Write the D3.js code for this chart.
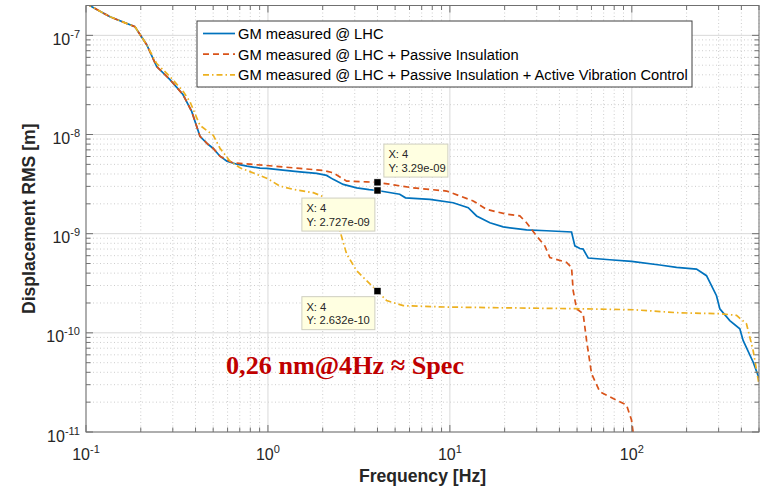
<!DOCTYPE html>
<html><head><meta charset="utf-8">
<script src="https://cdn.jsdelivr.net/npm/d3@7"></script>
<style>body{margin:0;background:#fff} svg{display:block}</style>
</head><body><svg id="c" width="761" height="487"></svg>
<script>
// ---- data ----
const freqLHC = [0.1, 0.1107, 0.1355, 0.1858, 0.2156, 0.2446, 0.2894, 0.341, 0.381, 0.4231, 0.468, 0.499, 0.545, 0.595, 0.676, 0.767, 0.904, 0.984, 1.209, 1.499, 1.852, 2.101, 2.284, 2.593, 3.073, 3.6, 4, 5.3, 5.7, 7.768, 10.42, 12.61, 14.02, 16.59, 19.63, 26.39, 33.99, 46.64, 48.63, 51.81, 54.0, 57.54, 75.7, 99.6, 142.5, 176.1, 226.7, 257.3, 292, 304.5, 345.5, 392.2, 408.9, 464, 500];
const rmsLHC = [2.1e-7, 1.89e-7, 1.54e-7, 1.22e-7, 8.05e-8, 4.84e-8, 3.58e-8, 2.53e-8, 1.71e-8, 9.59e-9, 7.97e-9, 7.27e-9, 6.04e-9, 5.38e-9, 5.02e-9, 4.80e-9, 4.58e-9, 4.55e-9, 4.37e-9, 4.20e-9, 4.05e-9, 3.87e-9, 3.53e-9, 3.14e-9, 2.90e-9, 2.78e-9, 2.727e-9, 2.50e-9, 2.30e-9, 2.22e-9, 2.05e-9, 1.83e-9, 1.51e-9, 1.29e-9, 1.17e-9, 1.09e-9, 1.07e-9, 1.04e-9, 7.54e-10, 7.09e-10, 6.99e-10, 5.68e-10, 5.46e-10, 5.25e-10, 4.83e-10, 4.57e-10, 4.40e-10, 3.77e-10, 2.37e-10, 1.75e-10, 1.33e-10, 1.10e-10, 8.39e-11, 5.08e-11, 3.5e-11];

const freqPassive = [0.1, 0.1107, 0.1355, 0.1858, 0.2156, 0.2446, 0.2894, 0.341, 0.381, 0.4231, 0.468, 0.499, 0.545, 0.6426, 0.9837, 1.499, 2.013, 2.284, 2.707, 3.486, 4, 6.287, 9.592, 13.43, 15.91, 20.49, 24.24, 26.39, 29.95, 33.27, 35.44, 43.78, 46.64, 47.6, 49.69, 54.01, 56.39, 60.07, 66.71, 78.94, 93.52, 99.6, 101.6, 102.5];
const rmsPassive = [2.1e-7, 1.89e-7, 1.54e-7, 1.22e-7, 8.05e-8, 4.84e-8, 3.58e-8, 2.53e-8, 1.71e-8, 9.59e-9, 7.97e-9, 7.27e-9, 6.04e-9, 5.17e-9, 4.87e-9, 4.55e-9, 4.34e-9, 4.11e-9, 3.39e-9, 3.33e-9, 3.29e-9, 2.90e-9, 2.69e-9, 2.14e-9, 1.76e-9, 1.57e-9, 1.51e-9, 1.29e-9, 9.50e-10, 7.54e-10, 5.75e-10, 5.13e-10, 4.57e-10, 2.67e-10, 1.75e-10, 1.56e-10, 8.39e-11, 3.88e-11, 2.54e-11, 2.18e-11, 1.87e-11, 1.32e-11, 1.0e-11, 8e-12];

const freqActive = [0.1, 0.1107, 0.1355, 0.1858, 0.2156, 0.2446, 0.2894, 0.3424, 0.3727, 0.4072, 0.4231, 0.5007, 0.545, 0.6188, 0.7023, 0.9837, 1.164, 1.377, 1.774, 1.973, 2.284, 2.487, 2.707, 3.073, 3.635, 4, 4.489, 5.539, 9.592, 24.24, 51.81, 101.6, 183.6, 304.5, 376.2, 426.9, 464, 500];
const rmsActive = [2.1e-7, 1.89e-7, 1.54e-7, 1.22e-7, 8.05e-8, 5.19e-8, 3.84e-8, 2.71e-8, 2.15e-8, 1.455e-8, 1.237e-8, 9.82e-9, 7.27e-9, 5.38e-9, 4.61e-9, 3.63e-9, 3.02e-9, 2.80e-9, 2.59e-9, 2.40e-9, 1.83e-9, 1.07e-9, 6.23e-10, 4.23e-10, 3.11e-10, 2.632e-10, 2.115e-10, 1.88e-10, 1.82e-10, 1.78e-10, 1.75e-10, 1.71e-10, 1.59e-10, 1.56e-10, 1.50e-10, 1.23e-10, 6.66e-11, 3.03e-11];

const seriesNames = ["GM measured @ LHC", "GM measured @ LHC + Passive Insulation", "GM measured @ LHC + Passive Insulation + Active Vibration Control"];
const xTickVals = [0.1, 1, 10, 100];
const xTickExp = ["-1", "0", "1", "2"];
const yTickVals = [1e-11, 1e-10, 1e-9, 1e-8, 1e-7];
const yTickExp = ["-11", "-10", "-9", "-8", "-7"];
const tipFreq = 4;
const tipValues = [3.29e-9, 2.727e-9, 2.632e-10];
const tipLabels = ["3.29e-09", "2.727e-09", "2.632e-10"];
const xLabel = "Frequency [Hz]";
const yLabel = "Displacement RMS [m]";
const annotation = "0,26 nm@4Hz \u2248 Spec";

// ---- layout ----
const L = 86, R = 759, T = 5.5, B = 432;
const svg = d3.select("#c");
const x = d3.scaleLog().domain([0.1, 500]).range([L, R]);
const y = d3.scaleLog().domain([1e-11, 2e-7]).range([B, T]);
const font = "'Liberation Sans', Arial, Helvetica, sans-serif";
const axCol = "#707070", txtCol = "#262626";

const xAll = x.ticks();
const yAll = y.ticks();
const isMajor = v => Math.abs(Math.log10(v) - Math.round(Math.log10(v))) < 1e-9;

// grid
const g = svg.append("g");
g.selectAll(".xminor").data(xAll.filter(v => !isMajor(v))).join("line")
  .attr("x1", d => x(d)).attr("x2", d => x(d)).attr("y1", T).attr("y2", B)
  .attr("stroke", "#cdcdcd").attr("stroke-width", 1).attr("stroke-dasharray", "1,2.5");
g.selectAll(".yminor").data(yAll.filter(v => !isMajor(v))).join("line")
  .attr("y1", d => y(d)).attr("y2", d => y(d)).attr("x1", L).attr("x2", R)
  .attr("stroke", "#cdcdcd").attr("stroke-width", 1).attr("stroke-dasharray", "1,2.5");
g.selectAll(".xmajor").data(xTickVals).join("line")
  .attr("x1", d => x(d)).attr("x2", d => x(d)).attr("y1", T).attr("y2", B)
  .attr("stroke", "#d9d9d9").attr("stroke-width", 1);
g.selectAll(".ymajor").data(yTickVals).join("line")
  .attr("y1", d => y(d)).attr("y2", d => y(d)).attr("x1", L).attr("x2", R)
  .attr("stroke", "#d9d9d9").attr("stroke-width", 1);

// clip
svg.append("clipPath").attr("id", "clip").append("rect")
  .attr("x", L).attr("y", T).attr("width", R - L).attr("height", B - T);

const line = d3.line().x(d => x(d[0])).y(d => y(d[1]));
const series = [
  {f: freqLHC, v: rmsLHC, color: "#0072BD", dash: null},
  {f: freqPassive, v: rmsPassive, color: "#D95319", dash: "6,4"},
  {f: freqActive, v: rmsActive, color: "#EDB120", dash: "6,3,1.5,3"}
];
const lines = svg.append("g").attr("clip-path", "url(#clip)");
series.forEach(s => {
  lines.append("path").datum(s.f.map((f, i) => [f, s.v[i]]))
    .attr("d", line).attr("fill", "none").attr("stroke", s.color)
    .attr("stroke-width", 1.7).attr("stroke-dasharray", s.dash);
});

// axes box & ticks
const ax = svg.append("g");
ax.append("rect").attr("x", L).attr("y", T).attr("width", R - L).attr("height", B - T)
  .attr("fill", "none").attr("stroke", axCol).attr("stroke-width", 1);
xAll.forEach(v => {
  const len = isMajor(v) ? 7 : 4.5;
  ax.append("line").attr("x1", x(v)).attr("x2", x(v)).attr("y1", B).attr("y2", B - len).attr("stroke", axCol);
  ax.append("line").attr("x1", x(v)).attr("x2", x(v)).attr("y1", T).attr("y2", T + len).attr("stroke", axCol);
});
yAll.forEach(v => {
  const len = isMajor(v) ? 7 : 4.5;
  ax.append("line").attr("y1", y(v)).attr("y2", y(v)).attr("x1", L).attr("x2", L + len).attr("stroke", axCol);
  ax.append("line").attr("y1", y(v)).attr("y2", y(v)).attr("x1", R).attr("x2", R - len).attr("stroke", axCol);
});

// tick labels
xTickVals.forEach((v, i) => {
  const t = ax.append("text").attr("x", x(v)).attr("y", 460).attr("text-anchor", "middle")
    .attr("font-family", font).attr("font-size", 16).attr("fill", txtCol);
  t.append("tspan").text("10");
  t.append("tspan").attr("font-size", 11).attr("dy", -7).text(xTickExp[i]);
});
yTickVals.forEach((v, i) => {
  const t = ax.append("text").attr("x", 80).attr("y", y(v) + 9.5).attr("text-anchor", "end")
    .attr("font-family", font).attr("font-size", 16).attr("fill", txtCol);
  t.append("tspan").text("10");
  t.append("tspan").attr("font-size", 11).attr("dy", -7).text(yTickExp[i]);
});

// axis labels
svg.append("text").attr("x", (L + R) / 2).attr("y", 481.5).attr("text-anchor", "middle")
  .attr("font-family", font).attr("font-size", 17.6).attr("font-weight", "bold").attr("fill", txtCol)
  .text(xLabel);
svg.append("text").attr("transform", `translate(35,${(T + B) / 2}) rotate(-90)`).attr("text-anchor", "middle")
  .attr("font-family", font).attr("font-size", 17.6).attr("font-weight", "bold").attr("fill", txtCol)
  .text(yLabel);

// legend
const lg = svg.append("g");
lg.append("rect").attr("x", 197).attr("y", 21).attr("width", 495).attr("height", 66)
  .attr("fill", "#fff").attr("stroke", "#404040").attr("stroke-width", 1);
series.forEach((s, i) => {
  const cy = 33.5 + i * 20.7;
  lg.append("line").attr("x1", 203).attr("x2", 235).attr("y1", cy).attr("y2", cy)
    .attr("stroke", s.color).attr("stroke-width", 1.7).attr("stroke-dasharray", s.dash);
  lg.append("text").attr("x", 238).attr("y", cy + 5.3).attr("font-family", font)
    .attr("font-size", 14.7).attr("fill", "#000").text(seriesNames[i]);
});

// data tips
const tipOffsets = [[6.4, -38.3], [-75.6, 7.6], [-75.6, 5.5]];
tipValues.forEach((v, i) => {
  const px = x(tipFreq), py = y(v);
  const bx = px + tipOffsets[i][0], by = py + tipOffsets[i][1];
  const bw = i === 0 ? 64 : 73;
  svg.append("rect").attr("x", bx).attr("y", by).attr("width", bw).attr("height", 33)
    .attr("fill", "#ffffe1").attr("stroke", "#cfcfc0").attr("stroke-width", 1);
  svg.append("text").attr("x", bx + 4.5).attr("y", by + 14).attr("font-family", font)
    .attr("font-size", 11.2).attr("fill", "#262626").text("X: " + tipFreq);
  svg.append("text").attr("x", bx + 4.5).attr("y", by + 27.5).attr("font-family", font)
    .attr("font-size", 11.2).attr("fill", "#262626").text("Y: " + tipLabels[i]);
});
tipValues.forEach(v => {
  svg.append("rect").attr("x", x(tipFreq) - 3.5).attr("y", y(v) - 3.5).attr("width", 7).attr("height", 7)
    .attr("fill", "#000").attr("stroke", "#fff").attr("stroke-width", 0.5);
});

// annotation
svg.append("text").attr("x", 226).attr("y", 374).attr("font-family", "'Liberation Serif', 'Times New Roman', serif")
  .attr("font-size", 26.2).attr("font-weight", "bold").attr("fill", "#c00000").text(annotation);
</script></body></html>
